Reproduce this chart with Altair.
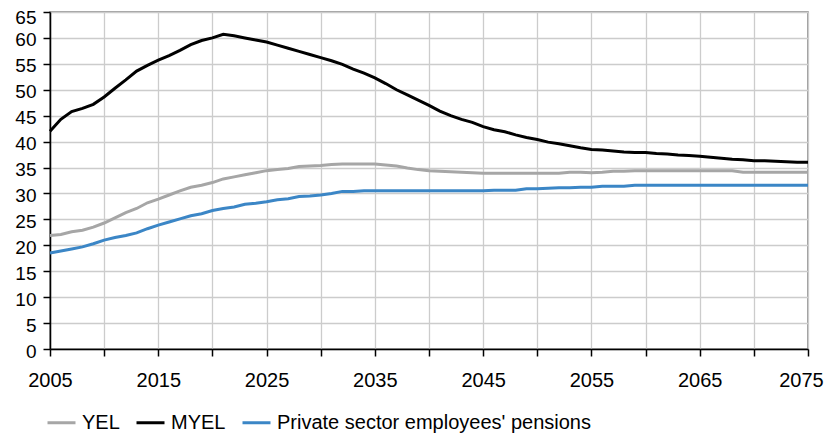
import altair as alt
import pandas as pd

# pension contribution rates, % of earnings, 2005-2075
years = list(range(2005, 2076))

yel = [21.9, 22.1, 22.6, 22.9, 23.5, 24.3, 25.3, 26.3, 27.1, 28.2,
       28.9, 29.7, 30.5, 31.2, 31.6, 32.1, 32.8, 33.2, 33.6, 34.0,
       34.4, 34.6, 34.8, 35.2, 35.3, 35.4, 35.6, 35.7, 35.7, 35.7,
       35.7, 35.5, 35.3, 34.9, 34.6, 34.4, 34.3, 34.2, 34.1, 34.0,
       33.9, 33.9, 33.9, 33.9, 33.9, 33.9, 33.9, 33.9, 34.1, 34.1,
       34.0, 34.1, 34.3, 34.3, 34.4, 34.4, 34.4, 34.4, 34.4, 34.4,
       34.4, 34.4, 34.4, 34.4, 34.1, 34.1, 34.1, 34.1, 34.1, 34.1,
       34.1]

myel = [42.0, 44.3, 45.8, 46.4, 47.2, 48.6, 50.3, 51.9, 53.6, 54.7,
        55.7, 56.6, 57.6, 58.7, 59.5, 60.0, 60.7, 60.4, 60.0, 59.6,
        59.2, 58.6, 58.0, 57.4, 56.8, 56.2, 55.6, 54.9, 54.0, 53.2,
        52.3, 51.2, 50.0, 49.0, 48.0, 47.0, 45.9, 45.0, 44.3, 43.7,
        42.9, 42.3, 41.9, 41.3, 40.8, 40.4, 39.9, 39.6, 39.2, 38.8,
        38.5, 38.4, 38.2, 38.0, 37.9, 37.9, 37.7, 37.6, 37.4, 37.3,
        37.2, 37.0, 36.8, 36.6, 36.5, 36.3, 36.3, 36.2, 36.1, 36.0,
        36.0]

private = [18.5, 18.9, 19.3, 19.7, 20.3, 21.0, 21.5, 21.9, 22.4, 23.2,
           23.9, 24.5, 25.1, 25.7, 26.1, 26.7, 27.1, 27.4, 27.9, 28.1,
           28.4, 28.8, 29.0, 29.4, 29.5, 29.7, 30.0, 30.4, 30.4, 30.5,
           30.5, 30.5, 30.5, 30.5, 30.5, 30.5, 30.5, 30.5, 30.5, 30.5,
           30.5, 30.6, 30.6, 30.6, 30.9, 30.9, 31.0, 31.1, 31.1, 31.2,
           31.2, 31.4, 31.4, 31.4, 31.6, 31.6, 31.6, 31.6, 31.6, 31.6,
           31.6, 31.6, 31.6, 31.6, 31.6, 31.6, 31.6, 31.6, 31.6, 31.6,
           31.6]

series_names = ["YEL", "MYEL", "Private sector employees' pensions"]
series_colors = ["#a6a6a6", "#000000", "#3b86c6"]

x_ticks = list(range(2005, 2076, 5))
y_ticks = list(range(0, 70, 5))

df = pd.DataFrame({"year": years, "YEL": yel, "MYEL": myel,
                   "Private sector employees' pensions": private})
df = df.melt(id_vars="year", var_name="series", value_name="value")

chart = alt.Chart(df).mark_line(strokeWidth=3).encode(
    x=alt.X("year:Q",
            scale=alt.Scale(domain=[2005, 2075], nice=False, zero=False),
            axis=alt.Axis(values=x_ticks, format="d", title=None,
                          labelExpr="(datum.value - 2005) % 10 == 0 ? datum.label : ''",
                          labelFontSize=20, labelPadding=14, labelFlush=False,
                          labelOffset={"condition": {"test": "datum.value == 2075", "value": -7},
                                       "value": 0})),
    y=alt.Y("value:Q",
            scale=alt.Scale(domain=[0, 65], nice=False),
            axis=alt.Axis(values=y_ticks, title=None, labelFontSize=19,
                          labelPadding=7, labelFlush=False,
                          labelOffset={"condition": {"test": "datum.value == 65", "value": 5},
                                       "value": 2})),
    color=alt.Color("series:N",
                    scale=alt.Scale(domain=series_names, range=series_colors),
                    legend=alt.Legend(title=None, orient="none", direction="horizontal",
                                      legendX=-4, legendY=395, symbolType="stroke",
                                      symbolSize=784, symbolStrokeWidth=3,
                                      labelFontSize=20, labelOffset=5,
                                      columnPadding=10, padding=0)),
).properties(
    width=758, height=337, autosize="none",
    padding={"left": 42, "top": 4, "right": 16, "bottom": 85}
).configure_axis(
    labelFont="Liberation Sans", labelColor="#000000",
    domainColor="#000000", domainWidth=1.5,
    tickColor="#000000", tickWidth=1.5, tickSize=7,
    gridColor="#cccccc", gridWidth=1.3
).configure_legend(
    labelFont="Liberation Sans", labelColor="#000000", labelLimit=0
).configure_view(
    stroke="#7f7f7f", strokeWidth=1.5
)

chart.save("out.html", embed_options={"renderer": "svg", "actions": False})
